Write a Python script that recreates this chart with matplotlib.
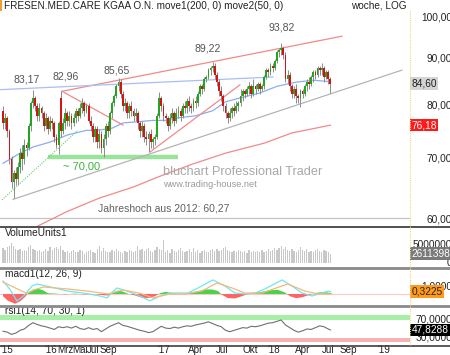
import matplotlib

matplotlib.use("Agg")
import matplotlib.pyplot as plt
import numpy as np
from matplotlib.lines import Line2D
from matplotlib.patches import Rectangle
from matplotlib.transforms import blended_transform_factory

plt.rcParams["font.family"] = ["Liberation Sans", "DejaVu Sans"]

# weekly candles, Aug 2015 .. Jul 2018 (index = week)
OPEN = [
    79.0, 76.5, 77.5, 75.0, 70.0, 66.0, 67.5, 66.5, 68.5, 71.0,
    70.0, 72.5, 72.0, 76.0, 80.5, 81.5, 80.0, 78.0, 79.5, 78.5,
    76.0, 77.5, 75.5, 77.0, 76.5, 74.0, 72.5, 81.5, 75.0, 76.5,
    78.5, 77.0, 78.0, 76.5, 77.5, 79.0, 78.0, 79.5, 80.5, 79.0,
    80.0, 77.0, 76.0, 74.0, 75.5, 73.0, 74.5, 72.0, 73.5, 76.0,
    75.0, 78.5, 80.5, 82.0, 84.0, 85.0, 82.5, 80.0, 80.5, 78.5,
    80.0, 79.0, 78.0, 78.5, 76.5, 75.0, 76.0, 74.0, 73.5, 74.5,
    73.0, 73.5, 74.0, 78.0, 81.5, 80.0, 78.0, 77.5, 76.0, 77.5,
    78.5, 77.0, 78.5, 79.0, 78.0, 80.0, 79.5, 81.0, 80.0, 79.5,
    81.0, 80.5, 82.5, 84.0, 83.5, 85.5, 86.0, 87.5, 88.0, 88.5,
    86.5, 85.0, 83.0, 82.0, 80.0, 78.5, 77.5, 78.5, 79.5, 79.0,
    80.0, 80.5, 82.0, 83.0, 82.5, 83.5, 84.0, 82.5, 84.0, 83.5,
    84.5, 83.5, 84.0, 86.0, 87.5, 87.0, 88.5, 88.0, 89.5, 91.5,
    92.0, 92.5, 91.0, 85.5, 86.5, 84.0, 82.5, 83.5, 82.0, 81.5,
    83.0, 82.5, 84.0, 85.0, 84.5, 86.0, 87.0, 86.5, 88.0, 87.5,
    88.0, 86.0, 87.0, 85.5,
]
HIGH = [
    80.0, 78.5, 78.0, 75.5, 70.5, 68.0, 68.5, 69.5, 72.0, 72.5,
    73.5, 73.0, 76.5, 81.0, 83.2, 82.0, 80.5, 80.5, 80.0, 79.0,
    78.5, 78.0, 78.0, 77.5, 77.0, 74.5, 77.0, 83.0, 77.5, 79.5,
    79.0, 79.0, 78.5, 78.5, 79.5, 79.5, 80.5, 81.5, 81.0, 80.5,
    80.5, 78.0, 76.5, 76.0, 76.0, 75.5, 75.0, 74.5, 76.5, 77.0,
    79.0, 81.0, 82.5, 84.5, 85.7, 85.5, 83.0, 81.5, 81.0, 80.5,
    81.0, 79.5, 79.5, 79.0, 77.0, 77.0, 76.5, 75.0, 75.0, 75.5,
    74.0, 74.5, 78.5, 82.8, 82.0, 80.5, 78.5, 78.0, 78.5, 79.5,
    79.0, 79.5, 80.0, 79.5, 80.5, 81.0, 81.5, 82.0, 80.5, 81.5,
    82.0, 83.0, 84.5, 84.5, 86.0, 86.5, 88.0, 88.5, 89.2, 89.0,
    87.0, 85.5, 84.0, 82.5, 80.5, 79.0, 79.5, 80.0, 80.5, 81.0,
    81.0, 83.5, 83.5, 83.5, 84.0, 85.0, 84.5, 85.5, 84.5, 85.0,
    85.0, 84.5, 86.5, 88.0, 88.0, 89.0, 89.0, 90.0, 92.0, 92.5,
    93.8, 93.0, 91.5, 87.5, 87.0, 84.5, 84.0, 84.5, 82.5, 83.5,
    83.5, 84.5, 85.5, 86.0, 86.5, 87.5, 87.5, 88.5, 88.5, 89.0,
    88.5, 87.5, 87.5, 86.0,
]
LOW = [
    75.5, 75.5, 74.0, 69.0, 65.0, 63.4, 65.5, 65.5, 67.5, 68.0,
    69.0, 70.5, 71.5, 75.0, 79.5, 79.0, 77.0, 77.0, 77.5, 75.0,
    75.5, 74.5, 75.0, 75.5, 73.0, 72.0, 70.8, 74.0, 74.5, 75.5,
    76.0, 76.0, 75.5, 76.0, 76.5, 77.0, 77.5, 78.5, 78.0, 78.5,
    76.5, 75.0, 73.0, 73.0, 72.0, 72.0, 71.0, 70.3, 72.5, 74.0,
    74.5, 77.5, 80.0, 81.5, 83.0, 81.5, 79.0, 79.0, 77.5, 77.5,
    78.0, 77.0, 77.0, 75.5, 74.0, 74.0, 73.0, 72.5, 71.2, 72.0,
    72.0, 72.5, 73.5, 77.5, 79.0, 77.0, 76.5, 75.0, 75.5, 76.5,
    76.0, 76.5, 77.5, 77.0, 77.5, 78.5, 78.5, 79.0, 78.5, 79.0,
    79.5, 80.0, 82.0, 82.5, 83.0, 85.0, 85.5, 86.5, 87.0, 85.5,
    84.0, 82.0, 81.0, 79.0, 77.5, 76.5, 77.0, 77.5, 78.0, 78.5,
    79.0, 80.0, 81.0, 81.5, 82.0, 82.5, 81.5, 82.0, 82.5, 83.0,
    82.5, 83.0, 83.5, 85.5, 86.0, 86.5, 87.0, 87.5, 89.0, 90.5,
    91.0, 90.0, 85.0, 84.5, 83.0, 81.5, 81.5, 80.5, 80.5, 79.7,
    81.5, 82.0, 83.0, 83.5, 84.0, 85.0, 85.5, 86.0, 86.5, 86.5,
    85.0, 85.5, 84.5, 82.6,
]
CLOSE = [
    76.5, 77.5, 75.0, 70.0, 66.0, 67.5, 66.5, 68.5, 71.0, 70.0,
    72.5, 72.0, 76.0, 80.5, 81.5, 80.0, 78.0, 79.5, 78.5, 76.0,
    77.5, 75.5, 77.0, 76.5, 74.0, 72.5, 76.5, 75.0, 76.5, 78.5,
    77.0, 78.0, 76.5, 77.5, 79.0, 78.0, 79.5, 80.5, 79.0, 80.0,
    77.0, 76.0, 74.0, 75.5, 73.0, 74.5, 72.0, 73.5, 76.0, 75.0,
    78.5, 80.5, 82.0, 84.0, 85.0, 82.5, 80.0, 80.5, 78.5, 80.0,
    79.0, 78.0, 78.5, 76.5, 75.0, 76.0, 74.0, 73.5, 74.5, 73.0,
    73.5, 74.0, 78.0, 81.5, 80.0, 78.0, 77.5, 76.0, 77.5, 78.5,
    77.0, 78.5, 79.0, 78.0, 80.0, 79.5, 81.0, 80.0, 79.5, 81.0,
    80.5, 82.5, 84.0, 83.5, 85.5, 86.0, 87.5, 88.0, 88.5, 86.5,
    85.0, 83.0, 82.0, 80.0, 78.5, 77.5, 78.5, 79.5, 79.0, 80.0,
    80.5, 82.0, 83.0, 82.5, 83.5, 84.0, 82.5, 84.0, 83.5, 84.5,
    83.5, 84.0, 86.0, 87.5, 87.0, 88.5, 88.0, 89.5, 91.5, 92.0,
    92.5, 91.0, 85.5, 86.5, 84.0, 82.5, 83.5, 82.0, 81.5, 83.0,
    82.5, 84.0, 85.0, 84.5, 86.0, 87.0, 86.5, 88.0, 87.5, 88.0,
    86.0, 87.0, 85.5, 84.6,
]
VOLUME_M = [
    4.0, 3.6, 4.3, 4.8, 5.5, 4.6, 3.9, 3.5, 3.8, 3.2,
    3.6, 3.4, 4.4, 4.9, 3.9, 3.5, 3.2, 3.7, 3.0, 3.4,
    3.8, 3.3, 4.4, 3.6, 4.0, 4.5, 3.8, 4.6, 3.5, 3.0,
    3.2, 2.8, 3.4, 3.7, 3.1, 2.9, 3.5, 3.2, 2.6, 3.0,
    3.3, 3.6, 3.1, 2.8, 3.9, 4.6, 3.4, 4.2, 3.3, 3.0,
    2.9, 3.5, 3.2, 3.8, 3.4, 3.1, 2.8, 3.3, 2.9, 3.6,
    3.2, 3.0, 3.4, 4.7, 3.5, 3.8, 3.3, 3.9, 4.2, 3.4,
    3.1, 3.5, 4.5, 3.8, 3.6, 6.4, 3.0, 3.5, 2.8, 3.9,
    3.3, 3.0, 3.6, 4.1, 3.2, 2.9, 3.4, 3.8, 3.1, 4.2,
    3.0, 3.5, 2.8, 3.3, 3.6, 3.1, 2.9, 3.7, 3.9, 3.4,
    3.8, 3.2, 3.5, 4.0, 4.3, 3.6, 3.2, 3.0, 3.4, 2.9,
    3.6, 3.2, 3.0, 3.3, 2.8, 3.5, 3.1, 3.4, 2.9, 3.2,
    3.0, 3.6, 3.1, 3.4, 3.8, 3.3, 3.5, 4.0, 3.6, 4.2,
    4.7, 3.9, 4.4, 3.7, 3.4, 3.9, 3.2, 3.0, 3.6, 4.3,
    3.5, 3.2, 3.8, 3.1, 3.4, 2.9, 3.6, 3.9, 3.3, 3.0,
    3.7, 3.4, 3.1, 2.611398,
]

# moving averages (week, price)
MA50_WEEKS = [0, 8, 14, 22, 30, 39, 44, 51, 56, 62, 70, 76, 80, 90, 98, 104, 111, 120, 128, 137, 145, 153]
MA50 = [69.2, 71.0, 72.1, 73.0, 74.3, 75.2, 75.2, 75.6, 76.6, 76.8, 77.1, 77.1, 77.5, 78.0, 79.0,
        80.8, 81.6, 82.6, 84.0, 84.9, 85.3, 85.0]
MA200_WEEKS = [8, 15, 30, 45, 61, 72, 88, 104, 122, 135, 153]
MA200 = [58.3, 58.9, 61.3, 63.4, 65.2, 66.8, 69.0, 71.0, 72.8, 74.7, 76.18]

# MACD(12, 26, 9)
MACD_WEEKS = [0, 3.3, 6.5, 9.8, 13.6, 15.9, 19.6, 24.3, 29.9, 37.4, 45.3, 48.6, 50.9, 53.3, 57.9,
              64.0, 68.7, 73.4, 78.0, 86.4, 91.1, 98.1, 103.7, 108.4, 113.1, 117.8, 122.4,
              130.4, 135.0, 139.7, 144.4, 149.1, 151.9, 153]
MACD = [1.73, 0.6, -0.93, -0.2, 1.07, 1.33, 1.1, 0.8, 0.4, 0.13, -0.27, -0.53, 0.2, 0.8, 0.4,
        -0.27, -0.93, -0.27, 0.13, 0.13, 0.8, 1.87, 1.07, 0.13, 0.0, 0.13, 0.67,
        1.87, 1.07, 0.13, -0.27, 0.13, 0.4, 0.3225]
SIGNAL_WEEKS = [0, 5, 11, 15, 19, 30, 39, 49, 56, 64, 70, 78, 85, 93, 100, 107, 113, 121, 133, 141, 147, 153]
SIGNAL = [1.6, 0.9, 0.1, 0.6, 0.93, 0.67, 0.4, 0.0, 0.53, 0.1, -0.53, 0.0, 0.0, 0.4, 1.47, 0.8,
          0.13, 0.13, 1.33, 0.4, 0.0, 0.0]
HIST_WEEKS = [0, 2.3, 5.6, 7.9, 10.3, 11.7, 14.0, 16.4, 18.7, 21.0, 24.3, 29.0, 33.6, 38.3, 43.0,
              46.3, 49.1, 50.9, 53.3, 55.6, 58.4, 61.7, 65.0, 67.8, 71.0, 73.4, 76.2, 79.0, 82.7,
              86.4, 89.7, 94.4, 97.7, 100.5, 102.3, 105.1, 108.4, 111.7, 114.5, 117.8, 121.0,
              124.8, 128.5, 131.8, 134.1, 136.9, 139.7, 143.5, 146.3, 149.1, 151.9, 153.7]
HIST = [-0.3, -0.9, -1.3, -1.0, -0.4, 0.1, 0.6, 0.7, 0.5, 0.1, 0.05, -0.05, 0.05, -0.05, 0.0,
        -0.15, -0.2, 0.1, 0.45, 0.35, 0.05, -0.2, -0.5, -0.55, -0.3, 0.1, 0.3, 0.1, 0.0,
        0.1, 0.3, 0.6, 0.6, 0.4, -0.1, -0.55, -0.6, -0.3, 0.0, 0.1, 0.3,
        0.5, 0.55, 0.2, -0.3, -0.55, -0.45, -0.1, 0.15, 0.25, 0.2, 0.1]

# RSI(14)
RSI_WEEKS = list(range(0, 153, 2)) + [153]
RSI = [45, 43, 38, 41, 47, 50, 58, 64, 60, 57, 55, 52, 49, 55, 53, 55, 52, 56, 51, 49,
       53, 49, 51, 44, 50, 56, 60, 64, 58, 56, 53, 50, 47, 45, 42, 44, 50, 56, 52, 51,
       54, 52, 55, 57, 56, 59, 61, 63, 66, 62, 58, 55, 47, 44, 47, 50, 53, 52, 56, 55,
       57, 60, 63, 64, 67, 70, 59, 53, 47, 43, 46, 50, 49, 53, 57, 55, 50, 47.83]

XTICK_LABELS = ["'15", "'16", "Mrz", "Mai", "Jul", "Sep", "'17", "Apr", "Jul", "Okt",
                "'18", "Apr", "Jul", "Sep", "'19"]
XTICK_WEEKS = [-1.4, 19.6, 25.2, 32.2, 39.3, 45.3, 72.0, 86.4, 99.5, 111.7,
               123.8, 136.4, 149.1, 157.5, 175.2]

GREEN = "#1fa81f"
RED = "#d41414"
WICK = "#8c8c8c"
TXT = "#555555"

W, H = 450, 355
fig = plt.figure(figsize=(W / 100, H / 100), dpi=100, facecolor="white")


def add_ax(top_px, bottom_px):
    ax = fig.add_axes([0, (H - bottom_px) / H, 410 / W, (bottom_px - top_px) / H])
    ax.set_facecolor("white")
    for s in ax.spines.values():
        s.set_visible(False)
    ax.set_xticks([])
    ax.set_yticks([])
    ax.set_xlim(-1.4, 190.2)
    return ax


ax = add_ax(10, 226)
axv = add_ax(227, 267)
axm = add_ax(269, 305)
axr = add_ax(307, 345)

# ---- price panel ----
ax.set_yscale("log")
ax.set_ylim(59.1, 101.8)
ax.minorticks_off()
ax.set_yticks([])
x = np.arange(len(CLOSE))
o = np.array(OPEN)
c = np.array(CLOSE)
ax.vlines(x, LOW, HIGH, color=WICK, lw=0.7, zorder=3)
body_lo = np.minimum(o, c)
body_h = np.maximum(np.abs(c - o), 0.15)
cols = [GREEN if cc >= oo else RED for oo, cc in zip(o, c)]
ax.bar(x, body_h, bottom=body_lo, width=0.85, color=cols, lw=0, zorder=4)

ax.plot(MA50_WEEKS, MA50, color="#8aaef0", lw=0.9, zorder=2)
ax.plot(MA200_WEEKS, MA200, color="#f08a8a", lw=0.9, zorder=2)

# trend lines
ax.plot([27.6, 158.4], [82.96, 95.3], color="#f08a8a", lw=0.9)
ax.plot([27.6, 56.1], [82.96, 76.2], color="#f08a8a", lw=0.9)
ax.plot([68.7, 110.7], [71.2, 84.3], color="#f08a8a", lw=0.9)
ax.plot([-1.4, 126.2], [83.3, 86.0], color="#a9bff2", lw=0.9)
ax.plot([4.7, 186.4], [63.2, 87.5], color="#b4b4b4", lw=0.9)
ax.plot([-0.5, 35.0], [63.1, 75.2], color="#6cc86c", lw=0.8, ls=(0, (1, 1.2)))
ax.plot([21.0, 81.8], [70.35, 70.35], color="#9be39b", lw=3.2, solid_capstyle="butt", zorder=1)
ax.axhline(60.27, color="#c4c4c4", lw=0.9, zorder=1)

for wk, pr, s in [(11.2, 85.5, "83,17"), (29.4, 86.0, "82,96"), (53.3, 87.5, "85,65"),
                  (95.8, 92.3, "89,22"), (130.4, 97.3, "93,82")]:
    ax.text(wk, pr, s, ha="center", va="center", fontsize=7.6, color=TXT)
ax.text(28.0, 68.6, "~ 70,00", ha="left", va="center", fontsize=8, color="#3cb43c")
ax.text(163 / 410, 0.25, "bluchart Professional Trader", transform=ax.transAxes,
        ha="left", va="center", fontsize=9.2, color="#a8a8a8")
ax.text(163 / 410, 0.19, "www.trading-house.net", transform=ax.transAxes,
        ha="left", va="center", fontsize=6.6, color="#9a9a9a")
ax.text(98 / 410, 0.079, "Jahreshoch aus 2012: 60,27", transform=ax.transAxes,
        ha="left", va="center", fontsize=7.5, color="#606060")

# ---- volume panel ----
axv.set_ylim(-1.1, 9.9)
axv.bar(x, VOLUME_M, width=0.6, color="#c8c8c8", lw=0)
axv.text(0.012, 0.85, "VolumeUnits1", transform=axv.transAxes, fontsize=7.3, color="#222", va="center")

# ---- MACD panel ----
axm.set_ylim(-1.47, 3.33)
hw = np.array(HIST_WEEKS)
hv = np.array(HIST)
axm.fill_between(hw, 0, hv, where=hv >= 0, interpolate=True, color="#4ad24a", lw=0)
axm.fill_between(hw, 0, hv, where=hv <= 0, interpolate=True, color="#ff6464", lw=0)
axm.axhline(0, color="#f7c9c9", lw=0.8, zorder=0)
axm.plot(MACD_WEEKS, MACD, color="#6fe6f0", lw=0.9)
axm.plot(SIGNAL_WEEKS, SIGNAL, color="#f5b97a", lw=0.9)
axm.text(0.012, 0.86, "macd1(12, 26, 9)", transform=axm.transAxes, fontsize=7.3, color="#222", va="center")

# ---- RSI panel ----
axr.set_ylim(14.4, 98.9)
axr.axhspan(70, 81, color="#a6f0a6", lw=0)
axr.axhspan(21, 30, color="#f7b3b3", lw=0)
axr.plot(RSI_WEEKS, RSI, color="#707070", lw=0.8)
axr.text(0.012, 0.9, "rsi1(14, 70, 30, 1)", transform=axr.transAxes, fontsize=7.3, color="#222", va="center")

xt = blended_transform_factory(axr.transData, fig.transFigure)
for wk, lab in zip(XTICK_WEEKS, XTICK_LABELS):
    axr.text(wk, 5 / H, lab, transform=xt, ha="left", va="center", fontsize=7.1, color="#222",
             clip_on=False)


# ---- right-hand value scale ----
def rlabel(a, val, s, fc=None, tc="#222222"):
    tr = blended_transform_factory(a.transAxes, a.transData)
    if fc is None:
        a.text(452 / 410, val, s, transform=tr, ha="right", va="center", fontsize=7.3,
               color=tc, clip_on=False, zorder=1)
    else:
        a.text(411.5 / 410, val, s, transform=tr, ha="left", va="center", fontsize=7.3,
               color=tc, clip_on=False, zorder=5,
               bbox=dict(boxstyle="square,pad=0.12", fc=fc, ec="none"))


for v in [100, 90, 80, 70, 60]:
    rlabel(ax, v, f"{v},00")
rlabel(ax, 84.6, "84,60", fc="#d4d4d4")
rlabel(ax, 76.18, "76,18", fc="#ff1a1a", tc="white")
rlabel(axv, 5.0, "5000000")
rlabel(axv, 0.0, "0")
rlabel(axv, 2.611398, "2611398", fc="#7a7a7a", tc="white")
rlabel(axm, 1.0, "1,0000")
rlabel(axm, 0.3225, "0,3225", fc="#ff9a1a")
rlabel(axr, 70, "70,0000")
rlabel(axr, 30, "30,0000")
rlabel(axr, 47.8288, "47,8288", fc="black", tc="white")

# ---- frame lines ----
for ypx, col, lw in [(226.5, "#505050", 1.4), (268, "#8a8a8a", 2.0), (306, "#8a8a8a", 2.0),
                     (345.5, "#404040", 1.2)]:
    fig.add_artist(Line2D([0, 1], [(H - ypx) / H] * 2, color=col, lw=lw))
fig.add_artist(Line2D([410 / W] * 2, [(H - 345) / H, (H - 10) / H], color="#ecd68c", lw=0.8,
                      ls=(0, (1, 1))))
fig.add_artist(Rectangle((0, (H - 11) / H), 2 / W, 11 / H, transform=fig.transFigure,
                         color="#f0a030", lw=0))

fig.text(4 / W, (H - 6) / H, "FRESEN.MED.CARE KGAA O.N. move1(200, 0) move2(50, 0)",
         ha="left", va="center", fontsize=7.2, color="#222")
fig.text(407 / W, (H - 6) / H, "woche, LOG", ha="right", va="center", fontsize=7.2, color="#222")

fig.savefig("out.png", dpi=100, facecolor="white")
